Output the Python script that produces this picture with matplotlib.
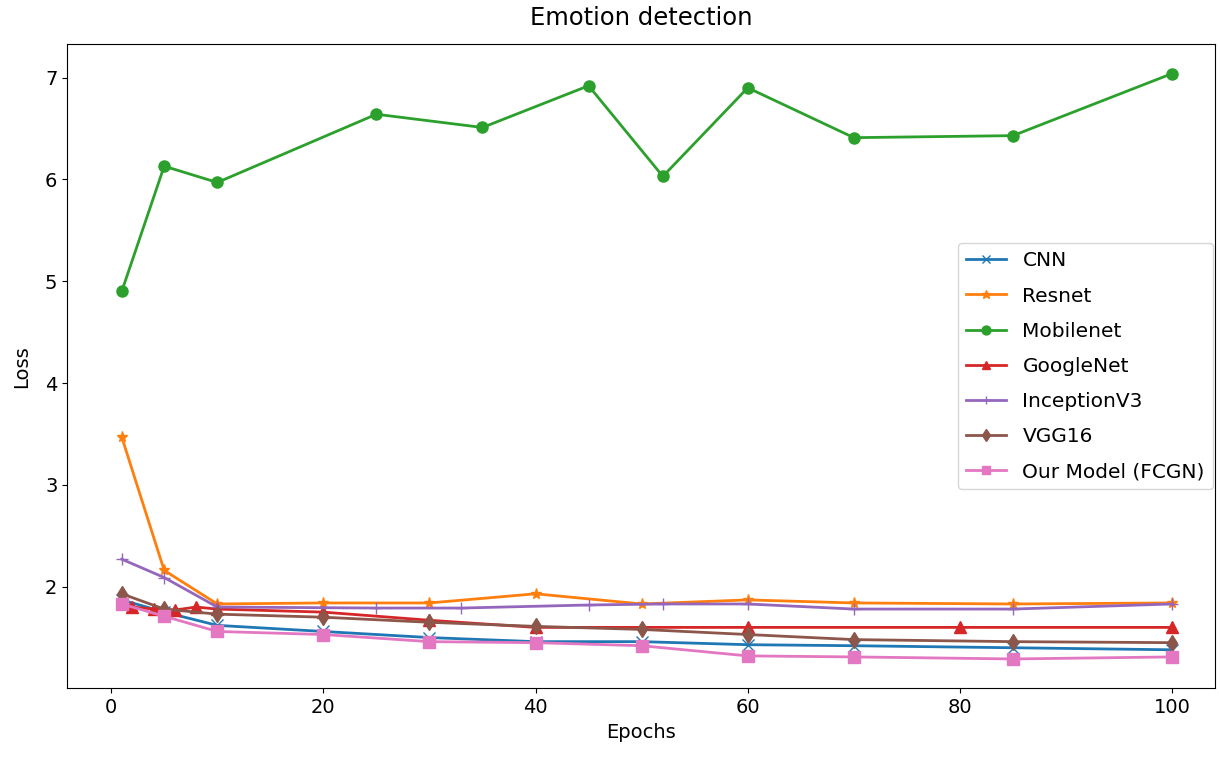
import matplotlib
matplotlib.use("Agg")
import matplotlib.pyplot as plt

plt.rcParams["font.size"] = 14
plt.rcParams["lines.linewidth"] = 2.0
plt.rcParams["lines.markersize"] = 8

# epochs and loss per model
cnn_x = [1, 5, 10, 20, 30, 40, 50, 60, 70, 85, 100]
cnn_y = [1.87, 1.75, 1.62, 1.56, 1.50, 1.46, 1.46, 1.43, 1.42, 1.40, 1.38]

resnet_x = [1, 5, 10, 20, 30, 40, 50, 60, 70, 85, 100]
resnet_y = [3.47, 2.16, 1.83, 1.84, 1.84, 1.93, 1.83, 1.87, 1.84, 1.83, 1.84]

mobilenet_x = [1, 5, 10, 25, 35, 45, 52, 60, 70, 85, 100]
mobilenet_y = [4.90, 6.13, 5.97, 6.64, 6.51, 6.92, 6.03, 6.90, 6.41, 6.43, 7.04]

googlenet_x = [1, 2, 4, 6, 8, 10, 20, 30, 40, 60, 80, 100]
googlenet_y = [1.87, 1.80, 1.78, 1.77, 1.80, 1.78, 1.75, 1.67, 1.60, 1.60, 1.60, 1.60]

inception_x = [1, 5, 10, 25, 33, 45, 52, 60, 70, 85, 100]
inception_y = [2.27, 2.09, 1.80, 1.79, 1.79, 1.82, 1.83, 1.83, 1.78, 1.78, 1.83]

vgg_x = [1, 5, 10, 20, 30, 40, 50, 60, 70, 85, 100]
vgg_y = [1.93, 1.78, 1.73, 1.70, 1.65, 1.61, 1.58, 1.53, 1.48, 1.46, 1.45]

ours_x = [1, 5, 10, 20, 30, 40, 50, 60, 70, 85, 100]
ours_y = [1.83, 1.71, 1.56, 1.53, 1.46, 1.45, 1.42, 1.32, 1.31, 1.29, 1.31]

fig = plt.figure(figsize=(12.2, 7.63), dpi=100)
ax = fig.add_axes([0.055, 0.098, 0.941, 0.844])

ax.plot(cnn_x, cnn_y, marker="x", label="CNN")
ax.plot(resnet_x, resnet_y, marker="*", label="Resnet")
ax.plot(mobilenet_x, mobilenet_y, marker="o", label="Mobilenet")
ax.plot(googlenet_x, googlenet_y, marker="^", label="GoogleNet")
ax.plot(inception_x, inception_y, marker="+", label="InceptionV3")
ax.plot(vgg_x, vgg_y, marker="d", label="VGG16")
ax.plot(ours_x, ours_y, marker="s", label="Our Model (FCGN)")

ax.set_xlim(-4.15, 104.05)
ax.set_title("Emotion detection", fontsize=17.5, pad=14)
ax.set_xlabel("Epochs")
ax.set_ylabel("Loss", labelpad=10)
ax.legend(loc="center right", bbox_to_anchor=(0.998, 0.5), borderaxespad=0,
          labelspacing=0.8, fontsize=14.5, markerscale=0.8)

fig.savefig("out.png")
